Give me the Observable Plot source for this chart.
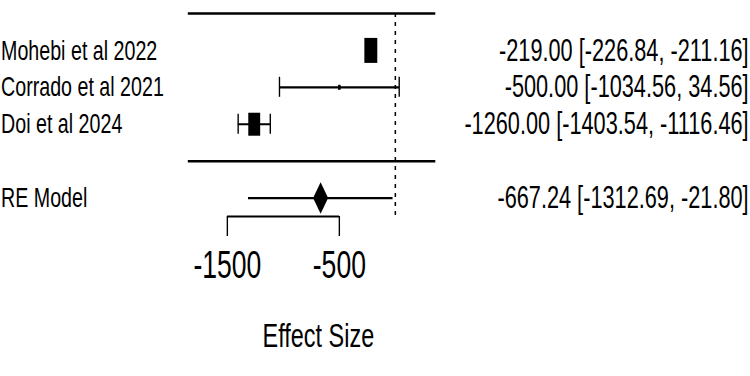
<!DOCTYPE html>
<html>
<head>
<meta charset="utf-8">
<script src="https://cdn.jsdelivr.net/npm/d3@7"></script>
<script src="https://cdn.jsdelivr.net/npm/@observablehq/plot@0.6"></script>
<style>
  html, body { margin: 0; padding: 0; background: #fff; overflow: hidden; }
</style>
</head>
<body>
<div id="chart"></div>
<script>
// ---- data ----
const studies   = ["Mohebi et al 2022", "Corrado et al 2021", "Doi et al 2024"];
const estimates = [-219.00, -500.00, -1260.00];
const ciLower   = [-226.84, -1034.56, -1403.54];
const ciUpper   = [-211.16, 34.56, -1116.46];
const relWeight = [1.0, 0.2, 0.92];          // relative box size (model weight)
const pooledLabel = "RE Model";
const pooledEst   = [-667.24];
const pooledLower = [-1312.69];
const pooledUpper = [-21.80];
const xTicks = [-1500, -500];
const xLimits = [-1850, 360];
const refValue = [0];
const xLabel = "Effect Size";

// ---- layout ----
const f = 0.69;                 // horizontal compression of the original image
const W = 750 / f, H = 376;
const k = studies.length;

const rows = studies.map((s, i) => ({
  label: s, est: estimates[i], lb: ciLower[i], ub: ciUpper[i], w: relWeight[i], row: k - i
}));
const pooled = [{label: pooledLabel, est: pooledEst[0], lb: pooledLower[0], ub: pooledUpper[0], row: -1}];
const fmt = d => `${d.est.toFixed(2)} [${d.lb.toFixed(2)}, ${d.ub.toFixed(2)}]`;

const boxSymbol = {
  draw(ctx, size) { const h = Math.sqrt(size), w = h * 0.75; ctx.rect(-w / 2, -h / 2, w, h); }
};
const diamondSymbol = {
  draw(ctx, size) {
    const h = Math.sqrt(size) / 2, w = h * 0.69;
    ctx.moveTo(0, -h); ctx.lineTo(w, 0); ctx.lineTo(0, h); ctx.lineTo(-w, 0); ctx.closePath();
  }
};

const font = "'Liberation Sans', Arial, sans-serif";

const svg = Plot.plot({
  width: W,
  height: H,
  marginLeft: 1,
  marginRight: 2.5,
  marginTop: 0,
  marginBottom: 160,
  style: {fontFamily: font, color: "black", background: "white"},
  x: {domain: [xTicks[0], xTicks[1]], range: [227 / f, 339 / f]},
  y: {domain: [k + 1, -1.5], range: [13, 216], axis: null},
  r: {type: "linear", domain: [0, 1], range: [0, 14.1]},
  marks: [
    // separator lines
    Plot.ruleY([k + 1, 0], {x1: xLimits[0], x2: xLimits[1], stroke: "black", strokeWidth: 2.5}),
    // reference (null effect) line
    Plot.ruleX(refValue, {y1: k + 1, y2: -1.5, stroke: "black", strokeWidth: 2.2, strokeDasharray: "4,5"}),
    // study CIs
    Plot.ruleY(rows, {y: "row", x1: "lb", x2: "ub", stroke: "black", strokeWidth: 2.2}),
    Plot.ruleX(rows, {x: "lb", y1: "row", y2: "row", insetTop: -10, insetBottom: -10, stroke: "black", strokeWidth: 2}),
    Plot.ruleX(rows, {x: "ub", y1: "row", y2: "row", insetTop: -10, insetBottom: -10, stroke: "black", strokeWidth: 2}),
    Plot.dot(rows, {x: "est", y: "row", r: "w", symbol: boxSymbol, fill: "black", stroke: "none"}),
    // pooled estimate
    Plot.ruleY(pooled, {y: "row", x1: "lb", x2: "ub", stroke: "black", strokeWidth: 2.2}),
    Plot.dot(pooled, {x: "est", y: "row", r: 17.8, symbol: diamondSymbol, fill: "black", stroke: "none"}),
    // labels
    Plot.text(rows.concat(pooled), {y: "row", text: "label", frameAnchor: "left", textAnchor: "start", fontSize: 28.5, fill: "black"}),
    Plot.text(rows.concat(pooled), {y: "row", text: fmt, frameAnchor: "right", textAnchor: "end", fontSize: 31.5, fill: "black"}),
    // x axis
    Plot.ruleY([-1.5], {x1: xTicks[0], x2: xTicks[1], stroke: "black", strokeWidth: 2}),
    Plot.axisX({ticks: xTicks, tickSize: 20, tickPadding: 14, tickFormat: d => String(d),
                fontSize: 38.5, label: null, stroke: "black", strokeWidth: 2}),
    Plot.text([xLabel], {frameAnchor: "bottom", dx: -81.8, dy: 130, fontSize: 34, fill: "black"})
  ]
});

svg.setAttribute("width", 750);
svg.setAttribute("height", H);
svg.setAttribute("preserveAspectRatio", "none");
svg.style.width = "750px";
svg.style.height = H + "px";
svg.style.maxWidth = "none";
document.getElementById("chart").appendChild(svg);
</script>
</body>
</html>
